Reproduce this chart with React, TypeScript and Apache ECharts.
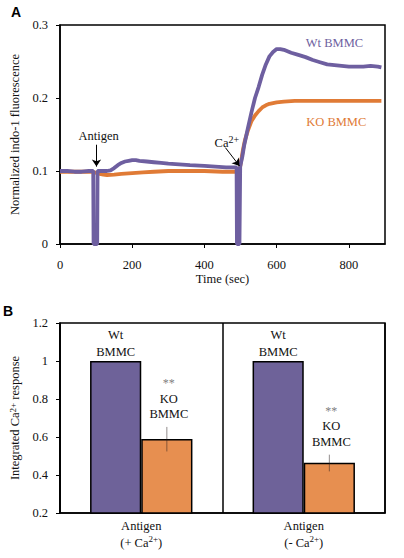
import React, { useEffect, useRef } from 'react';
import * as echarts from 'echarts';

// Panel A: time course (sec) and normalized indo-1 fluorescence
const wtTime = [0, 20, 40, 60, 80, 92, 93, 103, 104, 110, 120, 130, 140, 150, 160, 170, 180, 190, 200, 210, 220, 240, 260, 280, 300, 330, 360, 400, 430, 460, 489, 490, 497, 499, 505, 510, 520, 530, 540, 550, 560, 570, 580, 590, 600, 610, 620, 640, 660, 680, 700, 720, 740, 760, 780, 800, 820, 840, 860, 880, 890];
const wtValue = [0.1, 0.1, 0.099, 0.099, 0.1, 0.1, 0, 0, 0.1, 0.1, 0.1, 0.1, 0.101, 0.104, 0.108, 0.111, 0.113, 0.114, 0.115, 0.115, 0.114, 0.113, 0.112, 0.111, 0.11, 0.109, 0.108, 0.107, 0.106, 0.105, 0.105, 0, 0, 0.106, 0.12, 0.135, 0.158, 0.18, 0.2, 0.215, 0.232, 0.246, 0.257, 0.263, 0.267, 0.267, 0.266, 0.262, 0.259, 0.256, 0.252, 0.249, 0.246, 0.245, 0.244, 0.243, 0.243, 0.243, 0.244, 0.243, 0.242];
const koTime = [0, 50, 90, 110, 120, 130, 150, 170, 200, 230, 260, 300, 350, 400, 450, 490, 497, 502, 507, 512, 520, 530, 540, 550, 560, 570, 580, 600, 620, 650, 700, 750, 800, 850, 890];
const koValue = [0.099, 0.099, 0.099, 0.096, 0.095, 0.0945, 0.095, 0.096, 0.097, 0.098, 0.099, 0.1, 0.1, 0.1, 0.099, 0.099, 0.1, 0.115, 0.13, 0.142, 0.155, 0.168, 0.176, 0.182, 0.187, 0.19, 0.192, 0.194, 0.195, 0.196, 0.196, 0.196, 0.196, 0.196, 0.196];
const timeTicks = [0, 200, 400, 600, 800];

// Panel B: integrated Ca2+ response
const barCategories = ['Antigen\n(+ Ca2+)', 'Antigen\n(- Ca2+)'];
const wtBar = [1, 1];
const koBar = [0.59, 0.465];
const koErrLow = [0.524, 0.419];
const koErrHigh = [0.653, 0.507];

const SERIF = 'Liberation Serif, Times New Roman, serif';
const SANS = 'Liberation Sans, Arial, sans-serif';
const PURPLE_LINE = '#6e5fa0';
const ORANGE_LINE = '#e07b36';
const PURPLE_BAR = '#6e6299';
const ORANGE_BAR = '#e78f50';
const FS = 12.5;

const sup = { fontSize: 9, lineHeight: 10, verticalAlign: 'top' as const, fontFamily: SERIF, color: '#111' };

export default function App() {
  const ref = useRef<HTMLDivElement>(null);
  useEffect(() => {
    const chart = echarts.init(ref.current!, null, { renderer: 'svg' });
    const wtData = wtTime.map((t, i) => [t, wtValue[i]]);
    const koData = koTime.map((t, i) => [t, koValue[i]]);
    const textBase = { fontFamily: SERIF, fontSize: FS, color: '#111' };
    const gap = 0.37;
    const option: any = {
      animation: false,
      backgroundColor: '#fff',
      textStyle: { fontFamily: SERIF },
      title: [
        { text: 'A', left: 11, top: 5, padding: 0, textStyle: { fontFamily: SANS, fontWeight: 'bold', fontSize: 14, color: '#000' } },
        { text: 'B', left: 3, top: 304, padding: 0, textStyle: { fontFamily: SANS, fontWeight: 'bold', fontSize: 14, color: '#000' } },
      ],
      grid: [
        { left: 60, top: 25, width: 325, height: 219, show: true, borderColor: '#000', borderWidth: 1.5, backgroundColor: 'transparent' },
        { left: 60, top: 323, width: 325, height: 190, show: true, borderColor: '#000', borderWidth: 1.5, backgroundColor: 'transparent' },
      ],
      xAxis: [
        {
          type: 'value', gridIndex: 0, min: 0, max: 900, interval: 200,
          name: 'Time (sec)', nameLocation: 'middle', nameGap: 28, nameTextStyle: textBase,
          axisLine: { lineStyle: { color: '#000', width: 1.5 } },
          axisTick: { show: true, length: 4, lineStyle: { color: '#000' }, customValues: timeTicks },
          axisLabel: { ...textBase, margin: 14, customValues: timeTicks },
          splitLine: { show: false },
        },
        {
          type: 'category', gridIndex: 1, data: barCategories,
          axisLine: { lineStyle: { color: '#000', width: 1.5 } },
          axisTick: { show: false },
          axisLabel: {
            ...textBase, margin: 4, lineHeight: 17,
            formatter: (v: string) => v.replace('Ca2+', 'Ca{sup|2+}'),
            rich: { sup },
          },
          splitLine: { show: true, lineStyle: { color: '#000', width: 1.5 } },
        },
      ],
      yAxis: [
        {
          type: 'value', gridIndex: 0, min: 0, max: 0.3, interval: 0.1,
          name: 'Normalized indo-1 fluorescence', nameLocation: 'middle', nameGap: 35, nameTextStyle: textBase,
          axisLine: { show: true, lineStyle: { color: '#000', width: 1.5 } },
          axisTick: { show: true, length: 4, lineStyle: { color: '#000' } },
          axisLabel: { ...textBase, margin: 12 },
          splitLine: { show: false },
        },
        {
          type: 'value', gridIndex: 1, min: 0.2, max: 1.2, interval: 0.2,
          name: 'Integrated Ca{sup|2+} response', nameLocation: 'middle', nameGap: 35,
          nameTextStyle: { ...textBase, rich: { sup } },
          axisLine: { show: true, lineStyle: { color: '#000', width: 1.5 } },
          axisTick: { show: true, length: 4, lineStyle: { color: '#000' } },
          axisLabel: { ...textBase, margin: 12 },
          splitLine: { show: false },
        },
      ],
      series: [
        {
          type: 'line', name: 'KO BMMC', xAxisIndex: 0, yAxisIndex: 0, data: koData,
          showSymbol: false, lineStyle: { color: ORANGE_LINE, width: 3.8 }, itemStyle: { color: ORANGE_LINE }, z: 2,
        },
        {
          type: 'line', name: 'Wt BMMC', xAxisIndex: 0, yAxisIndex: 0, data: wtData,
          showSymbol: false, lineStyle: { color: PURPLE_LINE, width: 3.8 }, itemStyle: { color: PURPLE_LINE }, z: 3,
          markLine: {
            silent: true, symbol: ['none', 'arrow'], symbolSize: 7,
            lineStyle: { color: '#000', width: 1, type: 'solid' }, label: { show: false },
            data: [
              [{ coord: [101, 0.136] }, { coord: [101, 0.106] }],
              [{ coord: [458, 0.132] }, { coord: [497, 0.107] }],
            ],
          },
          markPoint: {
            silent: true, symbol: 'circle', symbolSize: 1, itemStyle: { color: 'transparent' },
            label: { show: true, position: 'inside', ...textBase },
            data: [
              { coord: [107, 0.148], label: { formatter: 'Antigen' } },
              { coord: [462, 0.138], label: { formatter: 'Ca{sup|2+}', rich: { sup: { ...sup, fontSize: 10, lineHeight: 9 } }, lineHeight: 17 } },
              { coord: [760, 0.275], label: { formatter: 'Wt BMMC', color: PURPLE_LINE } },
              { coord: [765, 0.1675], label: { formatter: 'KO BMMC', color: ORANGE_LINE } },
            ],
          },
        },
        {
          type: 'bar', name: 'Wt BMMC', xAxisIndex: 1, yAxisIndex: 1, data: wtBar,
          barGap: '0%', barCategoryGap: `${gap * 100}%`,
          itemStyle: { color: PURPLE_BAR, borderColor: '#000', borderWidth: 1.5 },
          label: { show: true, position: 'top', distance: 1, formatter: 'Wt\nBMMC', ...textBase, lineHeight: 16.5 },
        },
        {
          type: 'bar', name: 'KO BMMC', xAxisIndex: 1, yAxisIndex: 1, data: koBar,
          barGap: '0%', barCategoryGap: `${gap * 100}%`,
          itemStyle: { color: ORANGE_BAR, borderColor: '#000', borderWidth: 1.5 },
        },
        {
          type: 'custom', name: 'KO error', xAxisIndex: 1, yAxisIndex: 1, z: 5,
          data: koErrLow.map((l, i) => [i, l, koErrHigh[i]]),
          encode: { x: 0, y: [1, 2] },
          renderItem: (params: any, api: any) => {
            const idx = api.value(0);
            const lo = api.coord([idx, api.value(1)]);
            const hi = api.coord([idx, api.value(2)]);
            const band = api.size([1, 0])[0];
            const off = (band * (1 - gap)) / 4;
            return {
              type: 'group',
              children: [
                {
                  type: 'line',
                  shape: { x1: lo[0] + off, y1: lo[1], x2: hi[0] + off, y2: hi[1] },
                  style: { stroke: 'rgba(40,30,30,0.5)', lineWidth: 1 },
                },
                {
                  type: 'text',
                  style: {
                    text: '{s|**}\nKO\nBMMC',
                    x: hi[0] + off + 2, y: hi[1] - 5,
                    align: 'center', verticalAlign: 'bottom',
                    fontFamily: SERIF, fontSize: FS, fill: '#111', lineHeight: 15.5,
                    rich: { s: { fontFamily: SERIF, fontSize: 12, fill: '#808080', lineHeight: 15.5 } },
                  },
                },
              ],
            };
          },
        },
      ],
    };
    chart.setOption(option);
    return () => chart.dispose();
  }, []);
  return <div ref={ref} style={{ position: 'fixed', left: 0, top: 0, width: 404, height: 558 }} />;
}
